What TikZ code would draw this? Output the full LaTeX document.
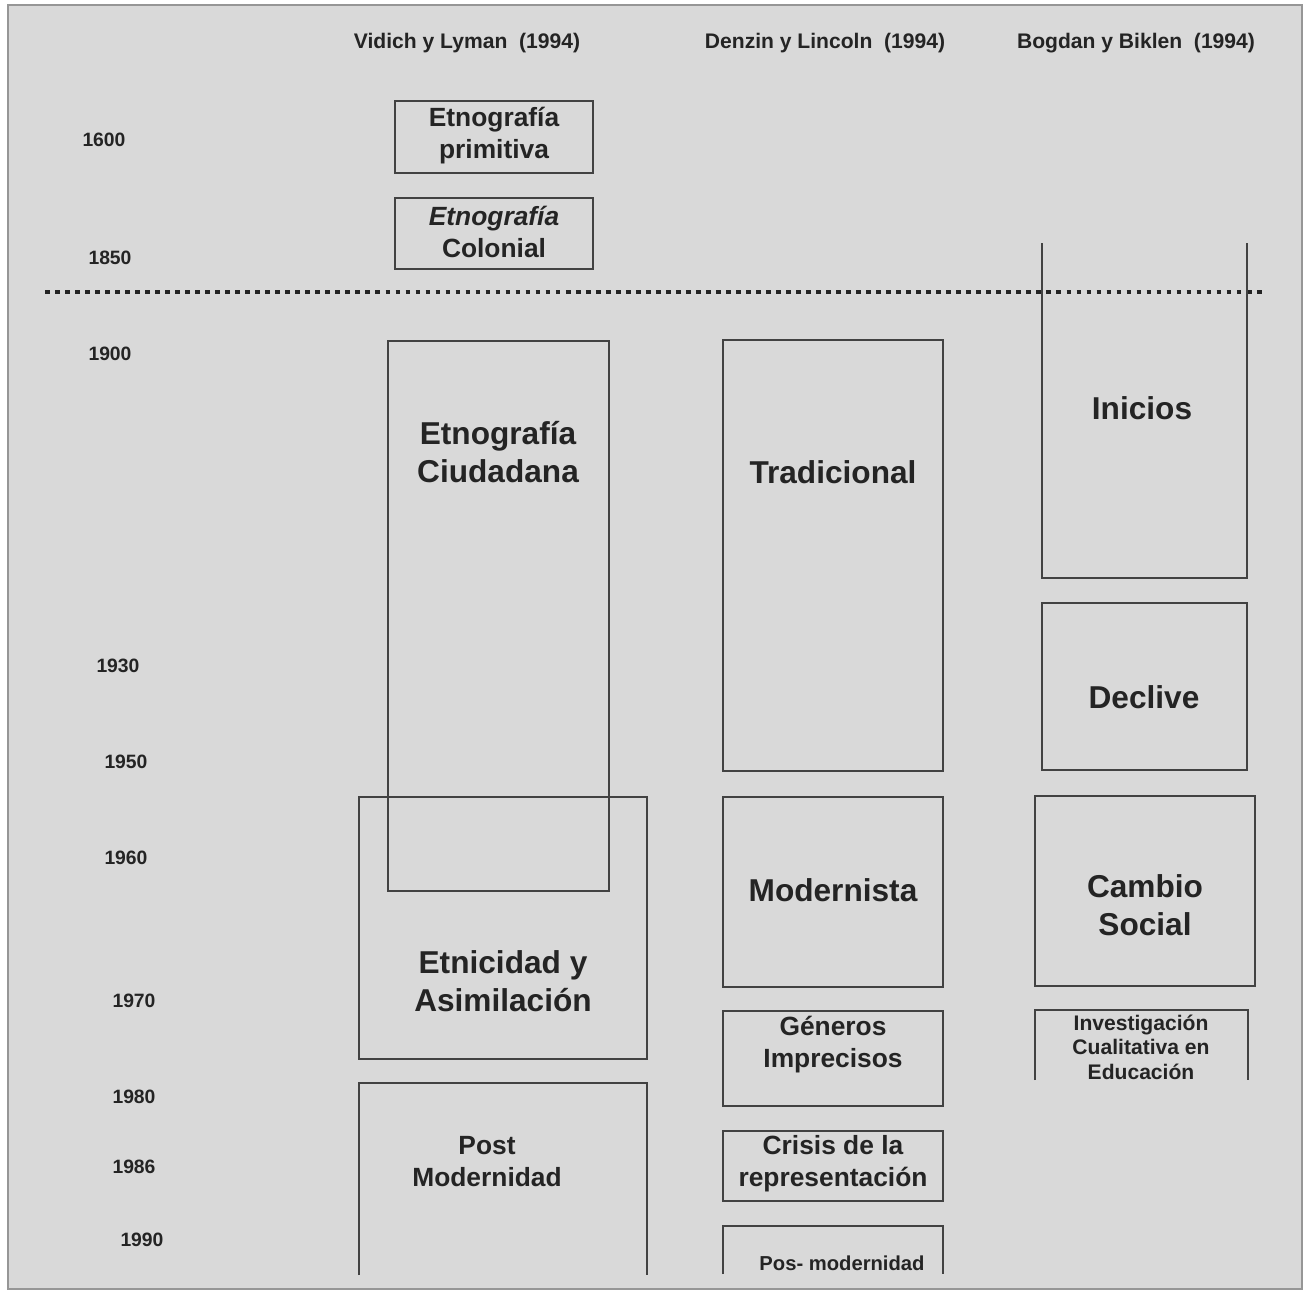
\documentclass[tikz,border=0pt]{standalone}
\usepackage{fontspec}
\setmainfont{Liberation Sans}
\usepackage{xcolor}
\usepackage{tikz}
\usetikzlibrary{positioning}
\definecolor{paper}{RGB}{217,217,217}
\definecolor{ink}{RGB}{36,36,36}
\definecolor{rule}{RGB}{66,66,66}
\definecolor{frame}{RGB}{150,150,150}

\begin{document}
\begin{tikzpicture}[x=0.02cm, y=-0.02cm,
    hdr/.style={font=\fontsize{12}{14}\selectfont\bfseries, text=ink},
    yr/.style={font=\fontsize{11}{12}\selectfont\bfseries, text=ink},
    big/.style={align=center, font=\fontsize{18}{21.6}\selectfont\bfseries, text=ink},
    mid/.style={align=center, font=\fontsize{15}{18.2}\selectfont\bfseries, text=ink},
    small/.style={align=center, font=\fontsize{12}{13.9}\selectfont\bfseries, text=ink},
    period/.style={draw=rule, line width=0.8pt},
    divider/.style={draw=ink, line width=2.7pt, dash pattern=on 2.7pt off 3.0pt}
]
\useasboundingbox (0,0) rectangle (1305,1296);
\fill[white] (0,0) rectangle (1305,1296);
\draw[frame, fill=paper, line width=1pt] (8,5) rectangle (1302,1289);

% Column headers
\node[hdr] (hvl) at (467,43) {Vidich y Lyman\ \ (1994)};
\node[hdr] (hdl) at (825,43) {Denzin y Lincoln\ \ (1994)};
\node[hdr] (hbb) at (1136,43) {Bogdan y Biklen\ \ (1994)};

% Years
\node[yr] (y1600) at (104,140) {1600};
\node[yr] (y1850) at (110,258) {1850};
\node[yr] (y1900) at (110,354) {1900};
\node[yr] (y1930) at (118,666) {1930};
\node[yr] (y1950) at (126,762) {1950};
\node[yr] (y1960) at (126,858) {1960};
\node[yr] (y1970) at (134,1001) {1970};
\node[yr] (y1980) at (134,1097) {1980};
\node[yr] (y1986) at (134,1167) {1986};
\node[yr] (y1990) at (142,1240) {1990};

% Dotted divider
\draw[divider] (45,292) -- (1262,292);

% Vidich y Lyman
\draw[period] (395,101) rectangle (593,173);
\node[mid] (prim) at (494,136) {Etnografía\\primitiva};
\draw[period] (395,198) rectangle (593,269);
\node[mid] (colon) at (494,232) {\itshape Etnografía\\Colonial};
\draw[period] (388,341) rectangle (609,891);
\node[big] (ciud) at (498,452) {Etnografía\\Ciudadana};
\draw[period] (359,797) rectangle (647,1059);
\node[big] (etnic) at (503,981) {Etnicidad y\\Asimilación};
\draw[period] (359,1275) -- (359,1083) -- (647,1083) -- (647,1275);
\node[mid] (postm) at (487,1162) {Post\\Modernidad};

% Denzin y Lincoln
\draw[period] (723,340) rectangle (943,771);
\node[big] (trad) at (833,472) {Tradicional};
\draw[period] (723,797) rectangle (943,987);
\node[big] (modern) at (833,890) {Modernista};
\draw[period] (723,1011) rectangle (943,1106);
\node[mid] (gener) at (833,1045) {Géneros\\Imprecisos};
\draw[period] (723,1131) rectangle (943,1201);
\node[mid] (crisis) at (833,1164) {Crisis de la\\representación};
\draw[period] (723,1274) -- (723,1226) -- (943,1226) -- (943,1274);
\node[font=\fontsize{11.5}{13}\selectfont\bfseries, text=ink] (posm) at (842,1263) {Pos- modernidad};

% Bogdan y Biklen
\draw[period] (1042,243) -- (1042,578) -- (1247,578) -- (1247,243);
\node[big] (inic) at (1142,408) {Inicios};
\draw[period] (1042,603) rectangle (1247,770);
\node[big] (decl) at (1144,697) {Declive};
\draw[period] (1035,796) rectangle (1255,986);
\node[big] (cambio) at (1145,905) {Cambio\\Social};
\draw[period] (1035,1080) -- (1035,1010) -- (1248,1010) -- (1248,1080);
\node[small] (invest) at (1141,1047) {Investigación\\Cualitativa en\\Educación};

\end{tikzpicture}
\end{document}
